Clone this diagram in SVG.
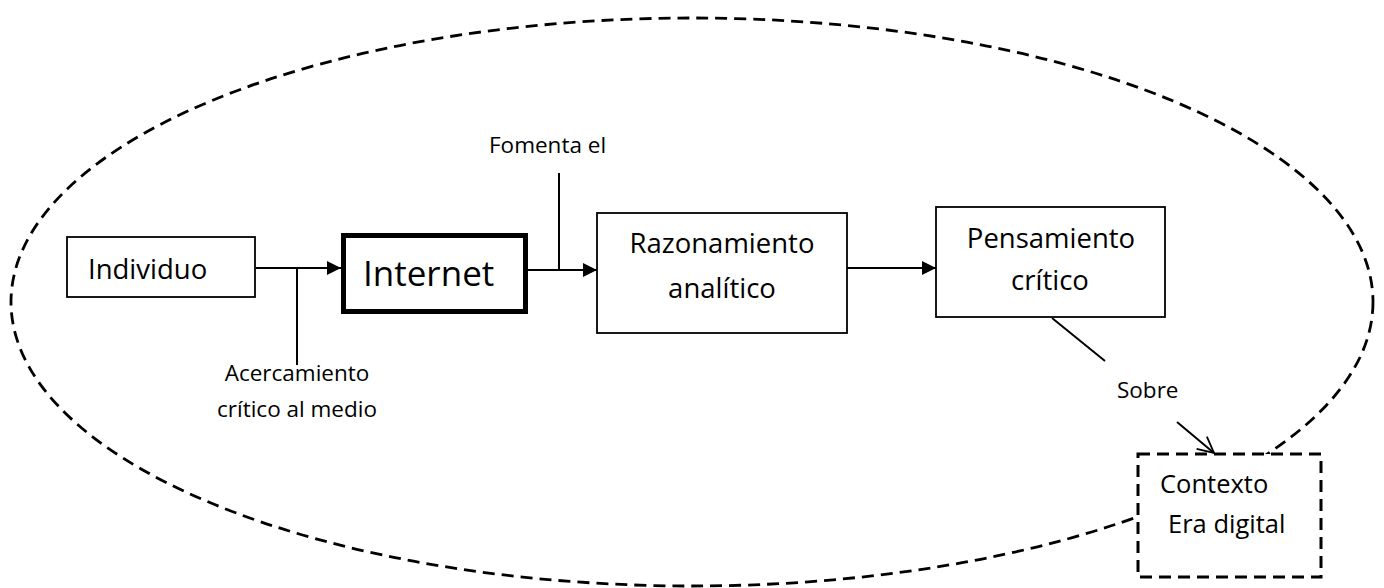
<svg xmlns="http://www.w3.org/2000/svg" width="1384" height="588" viewBox="0 0 1384 588">
  <style>
    text { font-family: "Open Sans", "Noto Sans", sans-serif; fill: #000; }
    .box { fill: #fff; stroke: #000; stroke-width: 1.8; }
    .thick { fill: #fff; stroke: #000; stroke-width: 5; }
    .dashbox { fill: #fff; stroke: #000; stroke-width: 3; stroke-dasharray: 12 7; }
    .ctx { fill: none; stroke: #000; stroke-width: 2.8; stroke-dasharray: 12 7; }
    .line { fill: none; stroke: #000; stroke-width: 2; }
    .arrow { marker-end: url(#tri); }
    .open { marker-end: url(#vee); }
    .main { font-size: 27.5px; }
    .lbl { font-size: 22.5px; }
    .mid { text-anchor: middle; }
  </style>
  <defs>
    <marker id="tri" markerUnits="userSpaceOnUse" markerWidth="14" markerHeight="14" refX="14" refY="7" orient="auto">
      <path d="M0,0 L14,7 L0,14 z" fill="#000"/>
    </marker>
    <marker id="vee" markerUnits="userSpaceOnUse" markerWidth="20" markerHeight="20" refX="17" refY="10" orient="auto">
      <path d="M1,2 L17,10 L1,18" fill="none" stroke="#000" stroke-width="1.8"/>
    </marker>
  </defs>

  <rect width="1384" height="588" fill="#fff"/>

  <g id="contexto-ellipse">
    <ellipse class="ctx" cx="692" cy="302" rx="681" ry="284"/>
  </g>

  <g id="connectors">
    <path class="line arrow" d="M256,268 H341"/>
    <path class="line" d="M297,268 V365"/>
    <path class="line arrow" d="M528,270 H597"/>
    <path class="line" d="M559,173 V270"/>
    <path class="line arrow" d="M847,268 H936"/>
    <path class="line" d="M1052,318 L1105,361"/>
    <path class="line open" d="M1177,422 L1214,453"/>
  </g>

  <g id="individuo">
    <rect class="box" x="67" y="237" width="188" height="60"/>
    <text class="main" x="88" y="279">Individuo</text>
  </g>

  <g id="internet">
    <rect class="thick" x="343.5" y="235.5" width="182" height="76"/>
    <text x="363" y="286" font-size="35px">Internet</text>
  </g>

  <g id="razonamiento">
    <rect class="box" x="597" y="213" width="250" height="120"/>
    <text class="main mid" x="722" y="253">Razonamiento</text>
    <text class="main mid" x="722" y="298">analítico</text>
  </g>

  <g id="pensamiento">
    <rect class="box" x="936" y="207" width="229" height="110"/>
    <text class="main mid" x="1051" y="248">Pensamiento</text>
    <text class="main mid" x="1050" y="290">crítico</text>
  </g>

  <g id="contexto">
    <rect class="dashbox" x="1138" y="454" width="183" height="123"/>
    <text x="1160" y="493" font-size="25.5px">Contexto</text>
    <text x="1168" y="533" font-size="25.5px">Era digital</text>
  </g>

  <g id="labels">
    <text class="lbl" x="489" y="153">Fomenta el</text>
    <text class="lbl mid" x="297" y="381">Acercamiento</text>
    <text class="lbl mid" x="297" y="417">crítico al medio</text>
    <text class="lbl" x="1117" y="398">Sobre</text>
  </g>
</svg>
